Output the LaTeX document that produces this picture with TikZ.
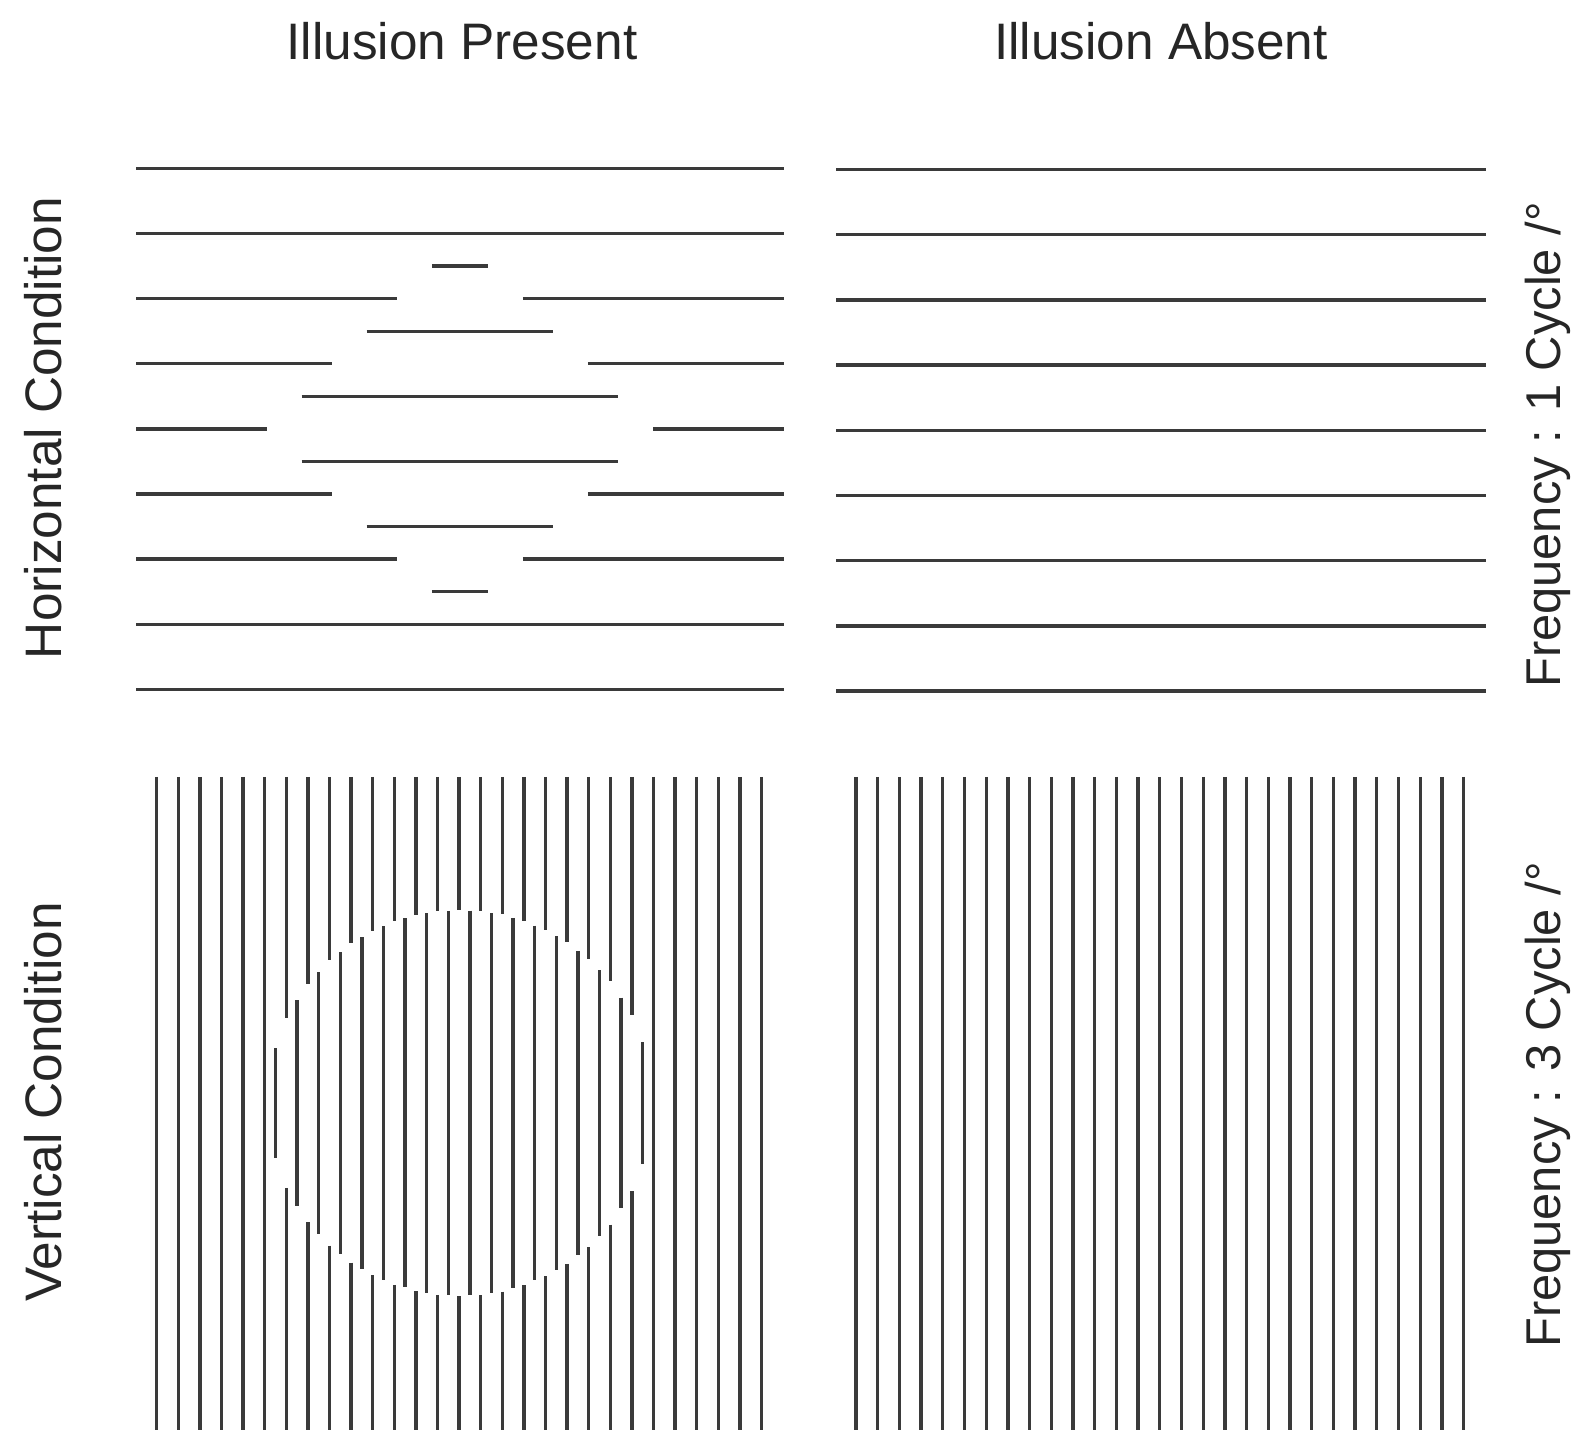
\documentclass[tikz,border=0pt]{standalone}
\usepackage{fontspec}
\setmainfont{Liberation Sans}
\usepackage{xcolor}
\usepackage{tikz}
\definecolor{barcol}{HTML}{3A3A3A}
\definecolor{inkcol}{HTML}{262626}
\tikzset{
  stripe/.style={draw=barcol,line width=0.95pt},
  lbl/.style={font=\fontsize{14.6}{17}\selectfont,text=inkcol,inner sep=0pt},
  vlbl/.style={lbl,rotate=90,anchor=base},
  flbl/.style={vlbl,font=\fontsize{13.9}{17}\selectfont}}
% plain horizontal grating: left x, right x, first row y
\newcommand{\hrows}[3]{%
  \foreach \k in {0,...,8}{\draw[stripe] (#1,{#3+65.2*\k}) -- (#2,{#3+65.2*\k});}}
% horizontal grating with a shifted diamond: left x, right x, centre x, centre y, half diagonal
\newcommand{\hdiamond}[5]{%
  \foreach \k in {0,...,8}{%
    \pgfmathsetmacro{\rowy}{#4+65.1*(\k-4)}%
    \pgfmathsetmacro{\rowcut}{#5+1-abs(65.1*(\k-4))}%
    \ifdim\rowcut pt>0pt
      \draw[stripe] (#1,\rowy) -- ({#3-\rowcut},\rowy);
      \draw[stripe] ({#3+\rowcut},\rowy) -- (#2,\rowy);
    \else
      \draw[stripe] (#1,\rowy) -- (#2,\rowy);
    \fi}
  \foreach \k in {0,...,7}{%
    \pgfmathsetmacro{\rowy}{#4+65.1*(\k-3.5)}%
    \pgfmathsetmacro{\rowhw}{#5-1-abs(65.1*(\k-3.5))}%
    \ifdim\rowhw pt>0pt \draw[stripe] ({#3-\rowhw},\rowy) -- ({#3+\rowhw},\rowy);\fi}}
% plain vertical grating: first x, top y, bottom y
\newcommand{\vcols}[3]{%
  \foreach \i in {0,...,28}{\draw[stripe] ({#1+21.7*\i},#2) -- ({#1+21.7*\i},#3);}}
% vertical grating with a shifted disc: first x, top y, bottom y, centre x, centre y, radius
\newcommand{\vdisc}[6]{%
  \foreach \i in {0,...,28}{%
    \pgfmathsetmacro{\colx}{#1+21.6*\i}%
    \pgfmathsetmacro{\coldx}{abs(\colx-#4)}%
    \ifdim\coldx pt<#6pt
      \pgfmathsetmacro{\colh}{(#6+0.3)*sqrt(1-(\coldx/(#6+0.3))^2)}%
      \draw[stripe] (\colx,#2) -- (\colx,{#5-\colh});
      \draw[stripe] (\colx,{#5+\colh}) -- (\colx,#3);
    \else
      \draw[stripe] (\colx,#2) -- (\colx,#3);
    \fi}
  \foreach \i in {0,...,27}{%
    \pgfmathsetmacro{\colx}{#1+10.8+21.6*\i}%
    \pgfmathsetmacro{\coldx}{abs(\colx-#4)}%
    \ifdim\coldx pt<#6pt
      \pgfmathsetmacro{\colh}{(#6-0.5)*sqrt(1-(\coldx/(#6-0.5))^2)}%
      \draw[stripe] (\colx,{#5-\colh}) -- (\colx,{#5+\colh});
    \fi}}

\begin{document}
\begin{tikzpicture}[x=0.1mm,y=-0.1mm]
  \useasboundingbox (0,0) rectangle (1579,1437);
  % column and row titles
  \node[lbl,anchor=base] (present) at (462,60) {Illusion Present};
  \node[lbl,anchor=base] (absent) at (1161,60) {Illusion Absent};
  \node[vlbl] (horiz) at (62,428) {Horizontal Condition};
  \node[vlbl] (vert) at (62,1102) {Vertical Condition};
  \node[flbl] (freqone) at (1560,445) {Frequency : 1 Cycle /°};
  \node[flbl] (freqthree) at (1560,1105) {Frequency : 3 Cycle /°};
  % gratings
  \hdiamond{136}{784}{460}{428.9}{192}
  \hrows{836}{1486}{169.5}
  \vdisc{156.7}{777}{1430}{460}{1103}{193}
  \vcols{856}{777}{1430}
\end{tikzpicture}
\end{document}
